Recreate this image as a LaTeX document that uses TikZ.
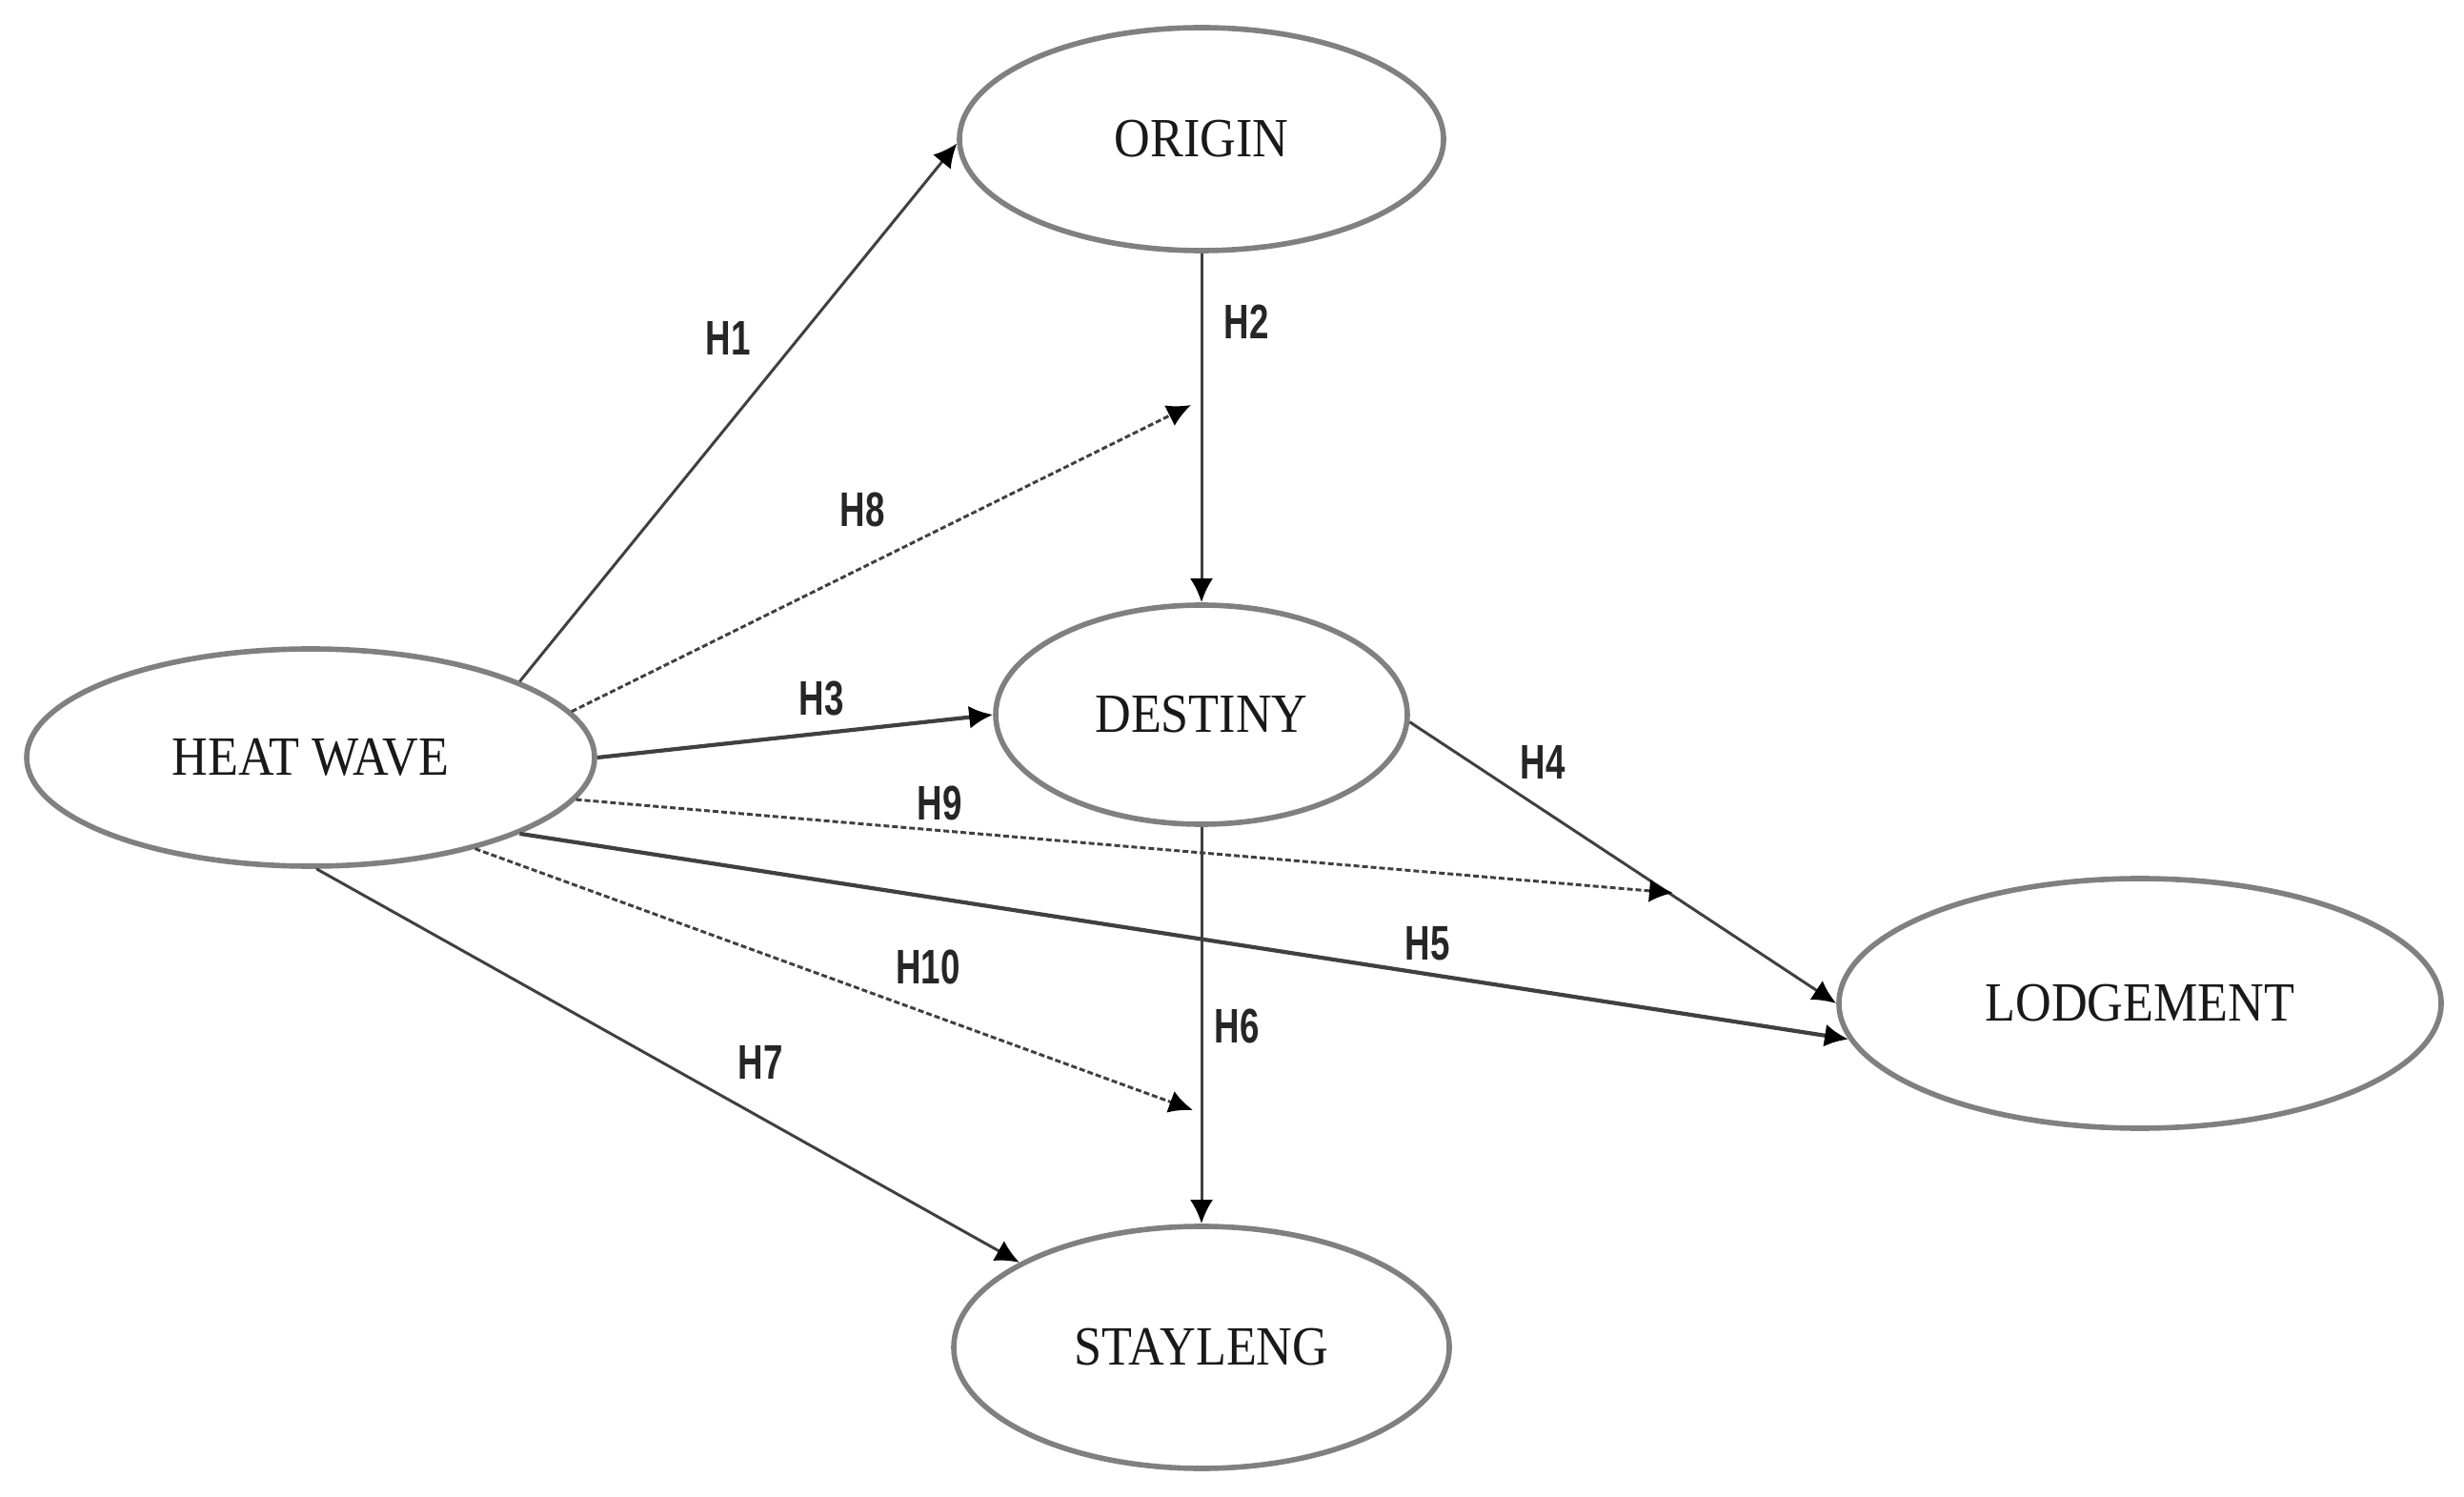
\documentclass[tikz,border=0pt]{standalone}
\usepackage{fontspec}
\setmainfont{Liberation Serif}
\newfontfamily\nodefont[FakeStretch=0.9]{Liberation Serif}
\newfontfamily\labfont[FakeStretch=0.72]{Liberation Sans}
\usetikzlibrary{shapes.geometric,arrows.meta}
\begin{document}
\begin{tikzpicture}[
  var/.style={ellipse, draw=black!50, line width=1.6pt, inner sep=0pt,
    font=\nodefont\fontsize{16.5}{18}\selectfont, text=black!90},
  path/.style={draw=black!75, line width=0.85pt,
    -{Latex[length=2.5mm,width=2.4mm,color=black]}},
  thickpath/.style={path, line width=1.2pt},
  dpath/.style={path, dash pattern=on 0.6mm off 0.3mm},
  hlab/.style={font=\labfont\bfseries\fontsize{14.5}{16}\selectfont, text=black!85, inner sep=0pt}
]
\useasboundingbox (0,0) rectangle (25.86,-15.71);

\node[var, minimum width=5.96cm, minimum height=2.28cm] (heat) at (3.26,-7.95) {HEAT WAVE};
\node[var, minimum width=5.08cm, minimum height=2.34cm] (origin) at (12.61,-1.46) {ORIGIN};
\node[var, minimum width=4.32cm, minimum height=2.30cm] (destiny) at (12.61,-7.50) {DESTINY};
\node[var, minimum width=6.32cm, minimum height=2.62cm] (lodge) at (22.46,-10.53) {LODGEMENT};
\node[var, minimum width=5.20cm, minimum height=2.54cm] (stay) at (12.61,-14.14) {STAYLENG};

\coordinate (c8) at (12.50,-4.25);
\coordinate (c9) at (17.56,-9.37);
\coordinate (c10) at (12.52,-11.65);

\draw[path] (heat.20) -- (origin.181);
\draw[path] (origin.south) -- (destiny.north);
\draw[dpath] (heat.10.5) -- (c8);
\draw[thickpath] (heat.east) -- (destiny.west);
\draw[path] (destiny.-2) -- (lodge.180);
\draw[dpath] (heat.-9) -- (c9);
\draw[thickpath] (heat.-20.6) -- (lodge.187);
\draw[dpath] (heat.-29.4) -- (c10);
\draw[path] (destiny.south) -- (stay.north);
\draw[path] (heat.-87) -- (stay.155);

\node[hlab] (h1) at (7.64,-3.55) {H1};
\node[hlab] (h2) at (13.08,-3.38) {H2};
\node[hlab] (h8) at (9.05,-5.35) {H8};
\node[hlab] (h3) at (8.62,-7.33) {H3};
\node[hlab] (h9) at (9.86,-8.43) {H9};
\node[hlab] (h4) at (16.19,-8.00) {H4};
\node[hlab] (h5) at (14.98,-9.90) {H5};
\node[hlab] (h10) at (9.74,-10.15) {H10};
\node[hlab] (h6) at (12.98,-10.77) {H6};
\node[hlab] (h7) at (7.98,-11.15) {H7};
\end{tikzpicture}
\end{document}
